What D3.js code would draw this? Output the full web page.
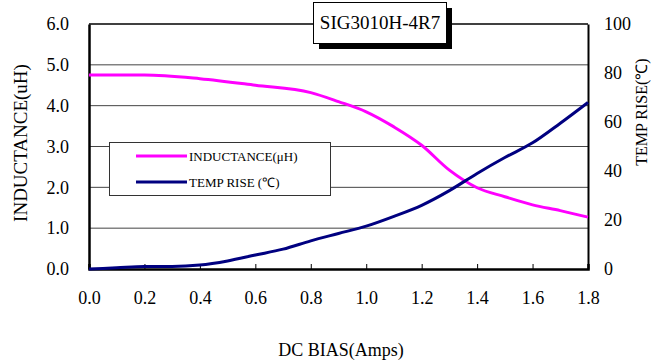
<!DOCTYPE html>
<html>
<head>
    <meta charset="utf-8" />
    <title>SIG3010H-4R7</title>
    <script src="https://d3js.org/d3.v7.min.js"></script>
    <style>
        body { margin: 0; background: #fff; }
    </style>
</head>
<body>
    <svg class="chart"></svg>
    <script>
        // data
        var biasInd = [0.0, 0.2, 0.4, 0.6, 0.8, 0.9, 1.0, 1.1, 1.2, 1.3, 1.4, 1.5, 1.6, 1.7, 1.8];
        var inductance = [4.75, 4.75, 4.66, 4.5, 4.32, 4.1, 3.85, 3.48, 3.03, 2.42, 1.99, 1.77, 1.57, 1.43, 1.27];
        var biasTemp = [0.0, 0.1, 0.2, 0.3, 0.4, 0.5, 0.6, 0.7, 0.8, 0.9, 1.0, 1.1, 1.2, 1.3, 1.4, 1.5, 1.6, 1.7, 1.8];
        var tempRise = [0, 0.5, 1, 1, 1.6, 3.3, 5.7, 8.1, 11.5, 14.5, 17.5, 21.5, 26, 32, 39, 45.5, 51.5, 59.5, 68];
        var xTicks = [0, 0.2, 0.4, 0.6, 0.8, 1.0, 1.2, 1.4, 1.6, 1.8];
        var yLeftTicks = [0, 1, 2, 3, 4, 5, 6];
        var yRightTicks = [0, 20, 40, 60, 80, 100];

        var serif = "'Liberation Serif', 'Times New Roman', serif";
        var svgWidth = 658, svgHeight = 363;
        var margin = {top: 24, right: 70, bottom: 94, left: 89};
        var width = svgWidth - margin.left - margin.right;
        var height = svgHeight - margin.top - margin.bottom;

        var svg = d3.select(".chart")
            .attr("width", svgWidth)
            .attr("height", svgHeight)
            .style("font-family", serif);
        var chart = svg.append("g")
            .attr("transform", "translate(" + margin.left + "," + margin.top + ")");

        var xScale = d3.scaleLinear().domain([0, 1.8]).range([0, width]);
        var yLeft = d3.scaleLinear().domain([0, 6]).range([height, 0]);
        var yRight = d3.scaleLinear().domain([0, 100]).range([height, 0]);

        // grid
        chart.selectAll(".grid")
            .data(yLeftTicks.filter(d => d > 0 && d < 6)).enter().append("line")
                .attr("x1", 0).attr("x2", width)
                .attr("y1", d => yLeft(d)).attr("y2", d => yLeft(d))
                .attr("stroke", "#444").attr("stroke-width", 1);
        chart.append("line")
            .attr("x1", 0).attr("x2", width)
            .attr("y1", yLeft(6)).attr("y2", yLeft(6))
            .attr("stroke", "#000").attr("stroke-width", 1.5);

        function styleAxis(g, w) {
            g.attr("font-family", serif).attr("font-size", 18);
            g.select(".domain").attr("stroke", "#000").attr("stroke-width", w);
            g.selectAll(".tick line").attr("stroke", "#000");
            g.selectAll("text").style("font-family", serif).style("font-size", "18px");
        }

        // axes
        var gx = chart.append("g")
            .attr("transform", "translate(0," + height + ")")
            .call(d3.axisBottom(xScale).tickValues(xTicks).tickSize(-5).tickPadding(22)
                .tickFormat(d3.format(".1f")));
        styleAxis(gx, 2.5);

        var gl = chart.append("g")
            .call(d3.axisLeft(yLeft).tickValues(yLeftTicks).tickSize(0).tickPadding(20)
                .tickFormat(d3.format(".1f")));
        styleAxis(gl, 2.5);

        var gr = chart.append("g")
            .attr("transform", "translate(" + width + ",0)")
            .call(d3.axisRight(yRight).tickValues(yRightTicks).tickSize(0).tickPadding(16));
        styleAxis(gr, 2);

        // lines
        var indLine = d3.line()
            .x((d, i) => xScale(biasInd[i]))
            .y(d => yLeft(d))
            .curve(d3.curveMonotoneX);
        var tempLine = d3.line()
            .x((d, i) => xScale(biasTemp[i]))
            .y(d => yRight(d))
            .curve(d3.curveMonotoneX);

        chart.append("path")
            .datum(inductance)
            .attr("d", indLine)
            .attr("fill", "none")
            .attr("stroke", "#ff00ff")
            .attr("stroke-width", 3);
        chart.append("path")
            .datum(tempRise)
            .attr("d", tempLine)
            .attr("fill", "none")
            .attr("stroke", "#000080")
            .attr("stroke-width", 3);

        // legend
        var legend = svg.append("g");
        legend.append("rect")
            .attr("x", 109.5).attr("y", 142.5).attr("width", 221).attr("height", 53)
            .attr("fill", "#fff").attr("stroke", "#333").attr("stroke-width", 1);
        var legendItems = [
            {label: "INDUCTANCE(\u03bcH)", color: "#ff00ff"},
            {label: "TEMP RISE (\u2103)", color: "#000080"}
        ];
        legendItems.forEach(function (item, i) {
            var y = 156 + i * 26;
            legend.append("line")
                .attr("x1", 136).attr("x2", 187).attr("y1", y).attr("y2", y)
                .attr("stroke", item.color).attr("stroke-width", 3);
            legend.append("text")
                .attr("x", 189).attr("y", y + 5)
                .style("font-family", serif)
                .style("font-size", "13px")
                .text(item.label);
        });

        // title box
        svg.append("rect")
            .attr("x", 319).attr("y", 8).attr("width", 133).attr("height", 41)
            .attr("fill", "#000");
        svg.append("rect")
            .attr("x", 313.5).attr("y", 2.5).attr("width", 133).attr("height", 41)
            .attr("fill", "#fff").attr("stroke", "#000").attr("stroke-width", 1);
        svg.append("text")
            .attr("x", 380).attr("y", 29)
            .attr("text-anchor", "middle")
            .style("font-family", serif)
            .style("font-size", "19px")
            .text("SIG3010H-4R7");

        // axis titles
        svg.append("text")
            .attr("x", 341).attr("y", 356)
            .attr("text-anchor", "middle")
            .style("font-family", serif)
            .style("font-size", "18px")
            .text("DC BIAS(Amps)");
        svg.append("text")
            .attr("transform", "translate(27,143) rotate(-90)")
            .attr("text-anchor", "middle")
            .style("font-family", serif)
            .style("font-size", "19px")
            .text("INDUCTANCE(uH)");
        svg.append("text")
            .attr("transform", "translate(647,112) rotate(-90)")
            .attr("text-anchor", "middle")
            .style("font-family", serif)
            .style("font-size", "16px")
            .text("TEMP RISE(\u2103)");
    </script>
</body>
</html>
